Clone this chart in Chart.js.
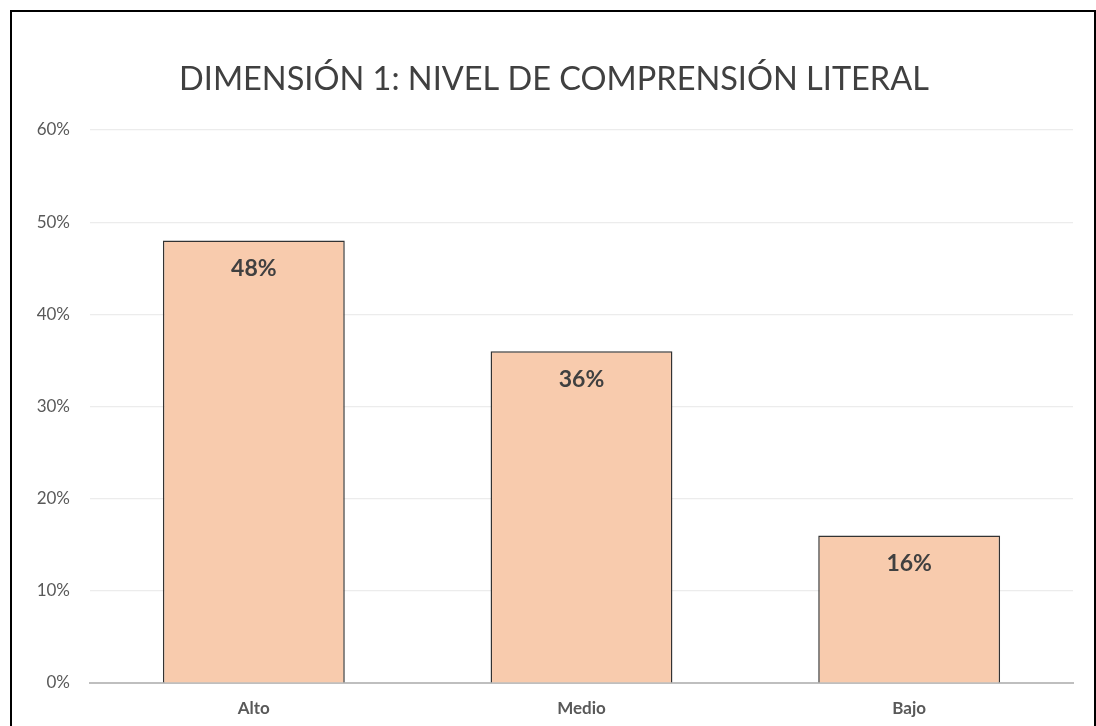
<!DOCTYPE html>
<html>
<head>
<meta charset="utf-8">
<script src="https://cdn.jsdelivr.net/npm/chart.js"></script>
<style>
    html, body { margin: 0; padding: 0; background: #fff; overflow: hidden; }
    #wrap { position: absolute; left: 0; top: 0; width: 1096px; height: 726px; }
    #frame { position: absolute; left: 10px; top: 10px; width: 1082px; height: 740px; border: 2px solid #000; pointer-events: none; }
</style>
</head>
<body>
<div id="wrap"><canvas id="chart" width="1096" height="726"></canvas></div>
<div id="frame"></div>
<script>
// --- Data ---
const categories = ['Alto', 'Medio', 'Bajo'];
const values = [48, 36, 16];
const yTicks = [0, 10, 20, 30, 40, 50, 60];
const titleText = 'DIMENSIÓN 1: NIVEL DE COMPRENSIÓN LITERAL';

const FONT = 'Lato, "Open Sans", sans-serif';

// title drawn centred over the whole frame (Excel style)
const frameTitle = {
    id: 'frameTitle',
    afterDraw(chart) {
        const ctx = chart.ctx;
        ctx.save();
        ctx.font = '32.5px ' + FONT;
        ctx.fillStyle = '#404040';
        ctx.textAlign = 'center';
        ctx.textBaseline = 'middle';
        ctx.fillText(titleText, 554, 80);
        ctx.restore();
    }
};

// simple value labels drawn inside the bar top
const barLabels = {
    id: 'barLabels',
    afterDatasetsDraw(chart) {
        const ctx = chart.ctx;
        const meta = chart.getDatasetMeta(0);
        ctx.save();
        ctx.font = 'bold 23px ' + FONT;
        ctx.fillStyle = '#404040';
        ctx.textAlign = 'center';
        ctx.textBaseline = 'middle';
        meta.data.forEach((bar, i) => {
            ctx.fillText(values[i] + '%', bar.x, bar.y + 28);
        });
        ctx.restore();
    }
};

new Chart(document.getElementById('chart'), {
    type: 'bar',
    data: {
        labels: categories,
        datasets: [{
            data: values,
            backgroundColor: '#F8CBAD',
            borderColor: '#333333',
            borderWidth: 1.5,
            barPercentage: 0.555,
            categoryPercentage: 1
        }]
    },
    options: {
        responsive: false,
        animation: false,
        layout: { padding: { left: 0, right: 23, top: 130, bottom: 0 } },
        plugins: {
            legend: { display: false },
            tooltip: { enabled: false },
            title: { display: false }
        },
        scales: {
            x: {
                grid: { display: false },
                border: { color: '#bfbfbf', width: 2 },
                ticks: {
                    color: '#595959',
                    font: { family: FONT, size: 17, weight: 'bold' },
                    padding: 7
                },
                afterFit: s => { s.height = 43; }
            },
            y: {
                min: 0,
                max: 60,
                afterBuildTicks: s => { s.ticks = yTicks.map(v => ({ value: v })); },
                border: { display: false },
                grid: {
                    drawTicks: false,
                    color: ctx => ctx.tick && ctx.tick.value === 0 ? '#bfbfbf' : '#ececec',
                    lineWidth: 1.2
                },
                ticks: {
                    color: '#595959',
                    font: { family: FONT, size: 17 },
                    padding: 20,
                    callback: v => v + '%'
                },
                afterFit: s => { s.width = 90; }
            }
        }
    },
    plugins: [barLabels, frameTitle]
});
</script>
</body>
</html>
